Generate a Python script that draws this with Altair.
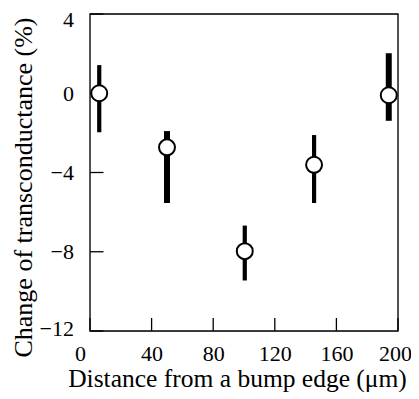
import altair as alt
import pandas as pd

# data
distance = [6, 50, 100.5, 145.5, 194]
change = [0.0, -2.73, -7.97, -3.61, -0.1]
err_hi = [1.42, -1.91, -6.68, -2.11, 2.02]
err_lo = [-1.97, -5.54, -9.45, -5.54, -1.39]
thick = [False, True, False, False, True]

x_ticks = [0, 40, 80, 120, 160, 200]
y_ticks = [-12, -8, -4, 0, 4]
x_range = [0, 200]
y_range = [-12, 4]

W, H = 308, 317
FONT = "Liberation Serif"
LINE = 1.3

df = pd.DataFrame({"x": distance, "y": change, "hi": err_hi, "lo": err_lo, "thick": thick})
dfx = pd.DataFrame({"x": x_ticks})
dfy = pd.DataFrame({"y": y_ticks})
dff = pd.DataFrame({"x": [x_range[0]], "x2": [x_range[1]], "y": [y_range[0]], "y2": [y_range[1]]})

xscale = alt.Scale(domain=x_range, nice=False, zero=False)
yscale = alt.Scale(domain=y_range, nice=False, zero=False)

common = dict(grid=False, domain=False, ticks=False,
              labelFlush=False, labelOverlap=False, labelFont=FONT, labelFontSize=22,
              labelColor="black", titleFont=FONT,
              titleFontWeight="normal", titleColor="black")

xaxis = alt.Axis(
    values=x_ticks, title="Distance from a bump edge (\u03bcm)", labelPadding=12,
    labelOffset={"condition": [{"test": "datum.value == 0", "value": -10},
                               {"test": "datum.value == 200", "value": -3}],
                 "value": 0},
    titleFontSize=25.5,
    titleX=147, titleY=55.5, titleBaseline="alphabetic", titleAlign="center", **common,
)
yaxis = alt.Axis(
    values=y_ticks, title="Change of transconductance (%)", labelPadding=16.5,
    labelOffset={"condition": [{"test": "datum.value == 4", "value": 5},
                               {"test": "datum.value == -12", "value": -3}],
                 "value": 0},
    titleFontSize=26,
    titleX=-59, titleY=173, titleAngle=-90, titleBaseline="alphabetic", titleAlign="center",
    **common,
)

frame = alt.Chart(dff).mark_rect(fill=None, fillOpacity=0, stroke="black", strokeWidth=LINE).encode(
    x=alt.X("x:Q", scale=xscale, axis=xaxis),
    x2="x2:Q",
    y=alt.Y("y:Q", scale=yscale, axis=yaxis),
    y2="y2:Q",
)

bars = alt.Chart(df).mark_rule(color="black").encode(
    x=alt.X("x:Q", scale=xscale, axis=xaxis),
    y=alt.Y("lo:Q", scale=yscale, axis=yaxis),
    y2="hi:Q",
    strokeWidth=alt.condition("datum.thick", alt.value(6), alt.value(4.2)),
)

pts = alt.Chart(df).mark_point(
    shape="circle", filled=True, fill="white", stroke="black", strokeWidth=2, size=255, opacity=1
).encode(
    x=alt.X("x:Q", scale=xscale, axis=xaxis),
    y=alt.Y("y:Q", scale=yscale, axis=yaxis),
)

xt = alt.Chart(dfx).mark_rule(color="black", strokeWidth=LINE).encode(
    x=alt.X("x:Q", scale=xscale, axis=xaxis),
    y=alt.value(H),
    y2=alt.value(H - 13),
)

yt = alt.Chart(dfy).mark_rule(color="black", strokeWidth=LINE).encode(
    y=alt.Y("y:Q", scale=yscale, axis=yaxis),
    x=alt.value(0),
    x2=alt.value(13.5),
)

chart = alt.layer(frame, xt, yt, bars, pts).properties(
    width=W, height=H,
    autosize=alt.AutoSizeParams(type="none"),
    padding={"left": 82, "top": 6, "right": 13, "bottom": 61},
).configure_view(stroke=None).configure(background="white")

chart.save("out.html", embed_options={"renderer": "svg", "actions": False})
